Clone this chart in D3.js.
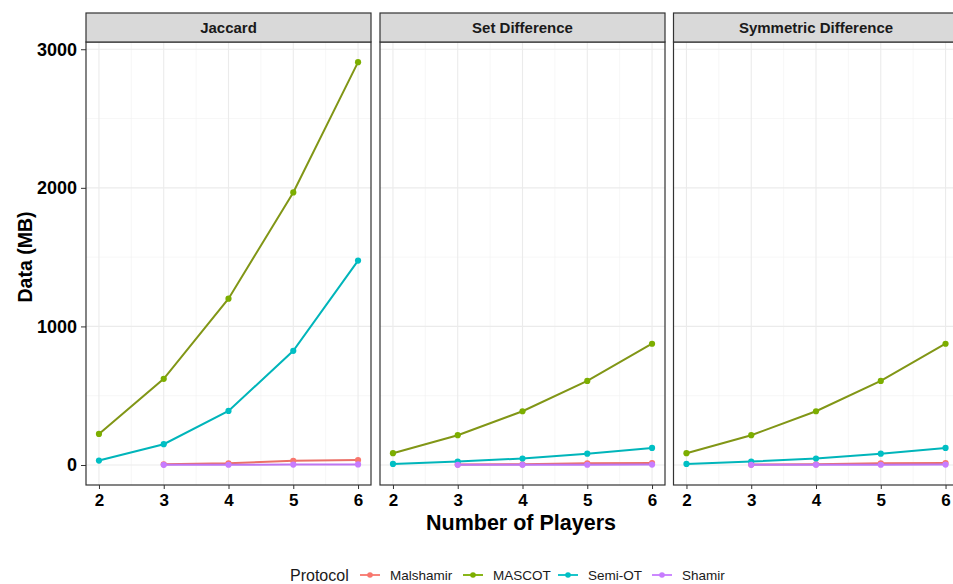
<!DOCTYPE html>
<html><head><meta charset="utf-8">
<script src="https://cdn.jsdelivr.net/npm/d3@7"></script>
<style>body{margin:0;background:#fff;font-family:Arial,"Liberation Sans",sans-serif;}</style>
</head><body>
<svg id="c" width="953" height="584"></svg>
<script>
const players = [2, 3, 4, 5, 6];
const panels = ["Jaccard", "Set Difference", "Symmetric Difference"];
const protocols = ["Malshamir", "MASCOT", "Semi-OT", "Shamir"];
const colors = ["#F8766D", "#7CAE00", "#00BFC4", "#C77CFF"];
const yTicks = [0, 1000, 2000, 3000];
// values per panel, per protocol (null = missing)
const jaccardMalshamir = [null, 5, 12, 30, 36];
const jaccardMASCOT = [224, 622, 1200, 1967, 2907];
const jaccardSemiOT = [32, 150, 390, 824, 1475];
const jaccardShamir = [null, 1, 2, 3, 4];
const setDiffMalshamir = [null, 3, 5, 12, 14];
const setDiffMASCOT = [85, 215, 388, 607, 875];
const setDiffSemiOT = [8, 25, 47, 82, 123];
const setDiffShamir = [null, 1, 2, 2, 3];
const symDiffMalshamir = [null, 3, 5, 12, 14];
const symDiffMASCOT = [85, 215, 388, 607, 875];
const symDiffSemiOT = [8, 25, 47, 82, 123];
const symDiffShamir = [null, 1, 2, 2, 3];

const dataByPanel = [
  [jaccardMalshamir, jaccardMASCOT, jaccardSemiOT, jaccardShamir],
  [setDiffMalshamir, setDiffMASCOT, setDiffSemiOT, setDiffShamir],
  [symDiffMalshamir, symDiffMASCOT, symDiffSemiOT, symDiffShamir]
];

const svg = d3.select("#c");
const plotTop = 42, plotBottom = 485, stripTop = 13;
const panelLefts = [86, 380, 673.5];
const panelW = 285;
const FONT = "Arial, 'Liberation Sans', sans-serif";

const allVals = dataByPanel.flat(2).filter(v => v != null);
const vmin = d3.min(allVals), vmax = d3.max(allVals);
const pad = (vmax - vmin) * 0.05;
const y = d3.scaleLinear().domain([vmin - pad, vmax + pad]).range([plotBottom, plotTop]);

const lineColor = (c, i) => i === 1 ? d3.interpolateRgb(c, "#8a6a40")(0.35) : d3.color(c).darker(0.15).formatHex();

panels.forEach((name, pi) => {
  const left = panelLefts[pi];
  const x = d3.scaleLinear().domain([1.8, 6.2]).range([left, left + panelW]);
  const g = svg.append("g");
  [500, 1500, 2500].forEach(v => g.append("line").attr("x1", left).attr("x2", left + panelW)
    .attr("y1", y(v)).attr("y2", y(v)).attr("stroke", "#f2f2f2").attr("stroke-width", 0.6));
  [2.5, 3.5, 4.5, 5.5].forEach(v => g.append("line").attr("y1", plotTop).attr("y2", plotBottom)
    .attr("x1", x(v)).attr("x2", x(v)).attr("stroke", "#f2f2f2").attr("stroke-width", 0.6));
  yTicks.forEach(v => g.append("line").attr("x1", left).attr("x2", left + panelW)
    .attr("y1", y(v)).attr("y2", y(v)).attr("stroke", "#ebebeb").attr("stroke-width", 1.1));
  players.forEach(v => g.append("line").attr("y1", plotTop).attr("y2", plotBottom)
    .attr("x1", x(v)).attr("x2", x(v)).attr("stroke", "#ebebeb").attr("stroke-width", 1.1));

  dataByPanel[pi].forEach((vals, si) => {
    const pts = players.map((p, i) => [p, vals[i]]).filter(d => d[1] != null);
    g.append("path").datum(pts)
      .attr("fill", "none").attr("stroke", lineColor(colors[si], si)).attr("stroke-width", 2)
      .attr("d", d3.line().x(d => x(d[0])).y(d => y(d[1])));
    g.selectAll(null).data(pts).enter().append("circle")
      .attr("cx", d => x(d[0])).attr("cy", d => y(d[1])).attr("r", 3.1)
      .attr("fill", colors[si]);
  });

  g.append("rect").attr("x", left).attr("y", plotTop).attr("width", panelW).attr("height", plotBottom - plotTop)
    .attr("fill", "none").attr("stroke", "#333").attr("stroke-width", 1.2);
  g.append("rect").attr("x", left).attr("y", stripTop).attr("width", panelW).attr("height", plotTop - stripTop)
    .attr("fill", "#d9d9d9").attr("stroke", "#333").attr("stroke-width", 1.2);
  g.append("text").attr("x", left + panelW / 2).attr("y", (stripTop + plotTop) / 2 + 5.5)
    .attr("text-anchor", "middle").attr("font-size", 15).attr("font-weight", "bold")
    .attr("font-family", FONT).attr("fill", "#1a1a1a").text(name);

  const xa = svg.append("g").attr("transform", `translate(0,${plotBottom})`)
    .call(d3.axisBottom(x).tickValues(players).tickSize(4).tickPadding(5).tickFormat(d3.format("d")));
  xa.select(".domain").remove();
  xa.selectAll("line").attr("stroke", "#333");
  xa.selectAll("text").attr("font-size", 17).attr("font-weight", "bold").attr("fill", "#000")
    .attr("font-family", FONT);

  if (pi === 0) {
    const ya = svg.append("g").attr("transform", `translate(${left},0)`)
      .call(d3.axisLeft(y).tickValues(yTicks).tickSize(5).tickPadding(4).tickFormat(d3.format("d")));
    ya.select(".domain").remove();
    ya.selectAll("line").attr("stroke", "#333");
    ya.selectAll("text").attr("font-size", 18).attr("font-weight", "bold").attr("fill", "#000")
      .attr("font-family", FONT);
  }
});

svg.append("text").attr("x", 521).attr("y", 530).attr("text-anchor", "middle")
  .attr("font-size", 21.5).attr("font-weight", "bold").attr("font-family", FONT).attr("fill", "#000")
  .text("Number of Players");
svg.append("text").attr("transform", `translate(32,257) rotate(-90)`)
  .attr("text-anchor", "middle").attr("font-size", 19.5).attr("font-weight", "bold")
  .attr("font-family", FONT).attr("fill", "#000").text("Data (MB)");

const lg = svg.append("g");
const ly = 575;
lg.append("text").attr("x", 290).attr("y", ly + 5.5).attr("font-size", 16).attr("font-family", FONT)
  .attr("fill", "#1a1a1a").text("Protocol");
const keyX = [360, 463, 558, 652];
protocols.forEach((p, i) => {
  lg.append("line").attr("x1", keyX[i]).attr("x2", keyX[i] + 20).attr("y1", ly).attr("y2", ly)
    .attr("stroke", colors[i]).attr("stroke-width", 1.8);
  lg.append("circle").attr("cx", keyX[i] + 10).attr("cy", ly).attr("r", 2.8).attr("fill", colors[i]);
  lg.append("text").attr("x", keyX[i] + 30).attr("y", ly + 5).attr("font-size", 13.5)
    .attr("font-family", FONT).attr("fill", "#1a1a1a").text(p);
});
</script>
</body></html>
